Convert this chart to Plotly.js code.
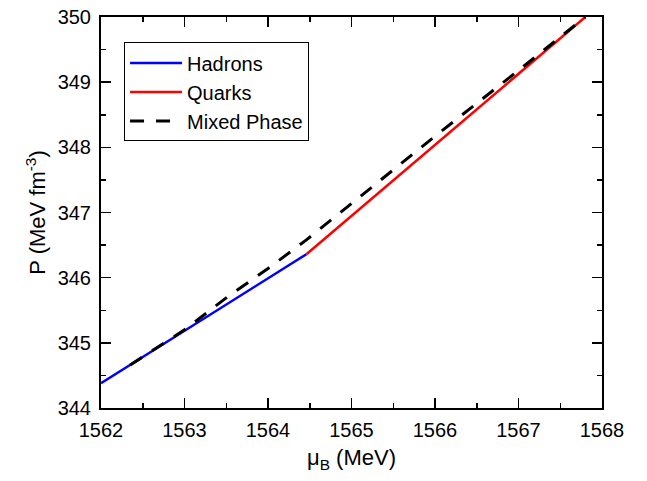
<!DOCTYPE html>
<html>
<head>
<meta charset="utf-8">
<script src="https://cdn.plot.ly/plotly-3.0.1.min.js"></script>
<style>html,body{margin:0;padding:0;background:#fff;}#chart{width:647px;height:481px;}</style>
</head>
<body>
<div id="chart"></div>
<script>
// Data
const hadronsMu = [1562.0, 1563.0, 1564.0, 1564.46];
const hadronsP  = [344.38, 345.18, 345.98, 346.36];

const quarksMu = [1564.46, 1565.0, 1566.0, 1567.0, 1567.8];
const quarksP  = [346.36, 346.95, 348.04, 349.13, 350.0];

const mixedMu = [1562.35, 1563.0, 1563.52, 1564.0, 1564.46, 1565.0, 1565.54, 1566.0, 1566.98, 1567.8];
const mixedP  = [344.66, 345.20, 345.71, 346.14, 346.58, 347.14, 347.70, 348.17, 349.16, 350.0];

const xTicks = [1562, 1563, 1564, 1565, 1566, 1567, 1568];
const yTicks = [344, 345, 346, 347, 348, 349, 350];

const font = 'Liberation Sans, Arial, sans-serif';

const traces = [
  {x: hadronsMu, y: hadronsP, mode: 'lines', name: 'Hadrons',
   line: {color: '#0000ff', width: 2.5}},
  {x: quarksMu, y: quarksP, mode: 'lines', name: 'Quarks',
   line: {color: '#ff0000', width: 2.5}},
  {x: mixedMu, y: mixedP, mode: 'lines', name: 'Mixed Phase',
   line: {color: '#000000', width: 3, dash: '14px,12px'}}
];

const axisCommon = {
  showgrid: false, zeroline: false, showline: true, linecolor: '#000', linewidth: 2,
  mirror: 'ticks', ticks: 'inside', ticklen: 10, tickwidth: 1.5, tickcolor: '#000',
  tickfont: {family: font, size: 20, color: '#000'},
  minor: {ticks: 'inside', ticklen: 5, tickwidth: 1.5, tickcolor: '#000', dtick: 0.5, showgrid: false}
};

const layout = {
  width: 647, height: 481,
  margin: {l: 101, r: 45, t: 17, b: 73},
  paper_bgcolor: '#fff', plot_bgcolor: '#fff',
  showlegend: true,
  legend: {x: 0.046, y: 0.935, xanchor: 'left', yanchor: 'top',
           bordercolor: '#000', borderwidth: 1, bgcolor: '#fff',
           itemwidth: 52,
           font: {family: font, size: 20, color: '#000'}},
  xaxis: Object.assign({}, axisCommon, {
    range: [1562, 1568], tickvals: xTicks, ticktext: xTicks.map(String),
    ticklabelstandoff: 3,
    title: {text: 'μ<sub>B</sub> (MeV)', font: {family: font, size: 22, color: '#000'}, standoff: 10}
  }),
  yaxis: Object.assign({}, axisCommon, {
    range: [344, 350], tickvals: yTicks, ticktext: yTicks.map(String),
    ticklabelstandoff: 4,
    title: {text: 'P (MeV fm<sup>-3</sup>)', font: {family: font, size: 22, color: '#000'}, standoff: 6}
  })
};

Plotly.newPlot('chart', traces, layout, {displayModeBar: false, staticPlot: true});
</script>
</body>
</html>
